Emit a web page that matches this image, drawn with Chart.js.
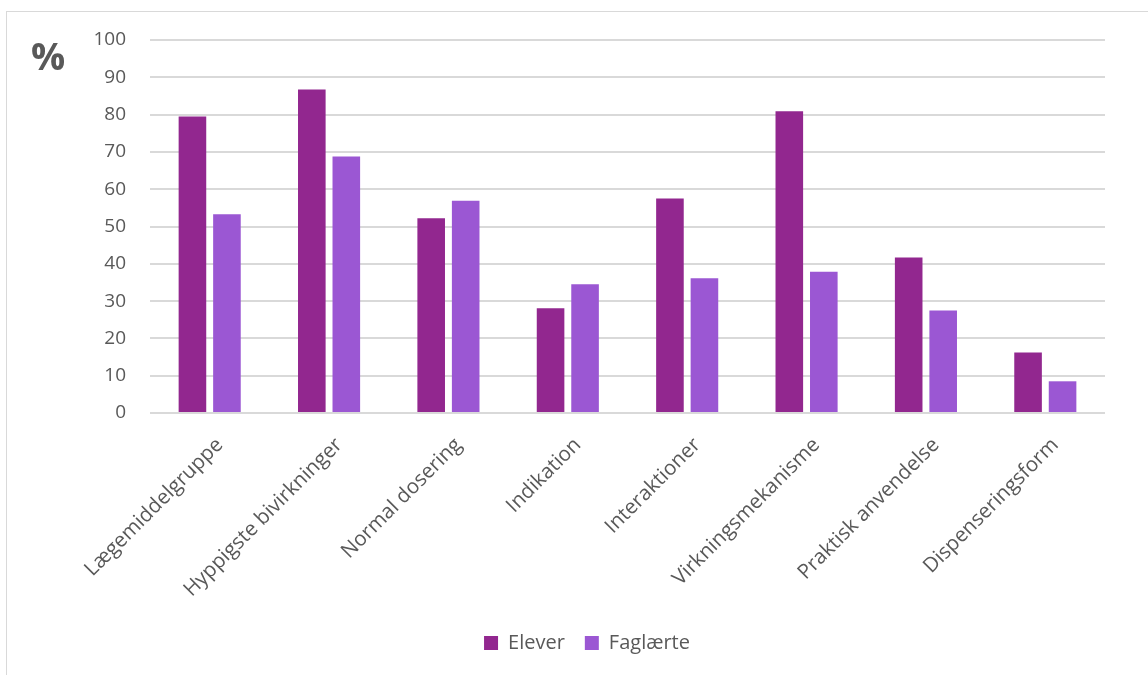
<!DOCTYPE html>
<html>
<head>
<meta charset="utf-8">
<script src="https://cdn.jsdelivr.net/npm/chart.js@4/dist/chart.umd.min.js"></script>
<style>
  html, body { margin: 0; padding: 0; background: #fff; }
  body { width: 1148px; height: 675px; overflow: hidden; position: relative; }
  .frame {
    position: absolute; left: 6px; top: 11px; width: 1200px; height: 700px;
    border-top: 1px solid #d9d9d9; border-left: 1px solid #d9d9d9;
  }
  .chart { position: absolute; left: 0; top: 0; width: 1148px; height: 675px; }
</style>
</head>
<body>
<div class="frame"></div>
<div class="chart"><canvas id="myChart"></canvas></div>
<script>
const categories = [
  'Lægemiddelgruppe',
  'Hyppigste bivirkninger',
  'Normal dosering',
  'Indikation',
  'Interaktioner',
  'Virkningsmekanisme',
  'Praktisk anvendelse',
  'Dispenseringsform',
];
const elever = [79.5, 86.7, 52.2, 28.1, 57.5, 80.9, 41.7, 16.2];
const faglaerte = [53.3, 68.8, 56.9, 34.5, 36.1, 37.9, 27.5, 8.5];
const yTicks = [0, 10, 20, 30, 40, 50, 60, 70, 80, 90, 100];

const textColor = '#595959';
const fontFamily = '"Open Sans", sans-serif';

// the "%" unit sits above the value axis, outside the plot
const unitLabel = {
  id: 'unitLabel',
  afterDraw(chart) {
    const ctx = chart.ctx;
    ctx.save();
    ctx.fillStyle = textColor;
    ctx.font = 'bold 38px ' + fontFamily;
    ctx.textAlign = 'center';
    ctx.textBaseline = 'middle';
    ctx.fillText('%', 48, 59);
    ctx.restore();
  },
};

const ctx = document.getElementById('myChart').getContext('2d');
const myChart = new Chart(ctx, {
  type: 'bar',
  data: {
    labels: categories,
    datasets: [
      {
        label: 'Elever',
        data: elever,
        backgroundColor: '#92278f',
        categoryPercentage: 0.578,
        barPercentage: 0.8,
      },
      {
        label: 'Faglærte',
        data: faglaerte,
        backgroundColor: '#9b57d3',
        categoryPercentage: 0.578,
        barPercentage: 0.8,
      },
    ],
  },
  options: {
    responsive: true,
    maintainAspectRatio: false,
    animation: false,
    layout: {
      padding: { left: 69, right: 43, top: 40, bottom: 12 },
    },
    plugins: {
      tooltip: { enabled: false },
      legend: {
        position: 'bottom',
        labels: {
          boxWidth: 14,
          boxHeight: 14,
          padding: 20,
          color: textColor,
          font: { family: fontFamily, size: 20 },
        },
      },
    },
    scales: {
      x: {
        grid: { display: false },
        border: { display: false },
        ticks: {
          color: textColor,
          font: { family: fontFamily, size: 20.5 },
          minRotation: 45,
          maxRotation: 45,
          padding: 12,
          labelOffset: 10,
        },
        afterFit(scale) {
          scale.height = 200;
        },
      },
      y: {
        min: 0,
        max: 100,
        afterBuildTicks(scale) {
          scale.ticks = yTicks.map((v) => ({ value: v }));
        },
        grid: { color: '#d9d9d9', lineWidth: 2, drawTicks: false },
        border: { display: false },
        ticks: {
          color: textColor,
          font: { family: fontFamily, size: 19 },
          padding: 24,
        },
        afterFit(scale) {
          scale.width = 81;
        },
      },
    },
  },
  plugins: [unitLabel],
});
</script>
</body>
</html>
